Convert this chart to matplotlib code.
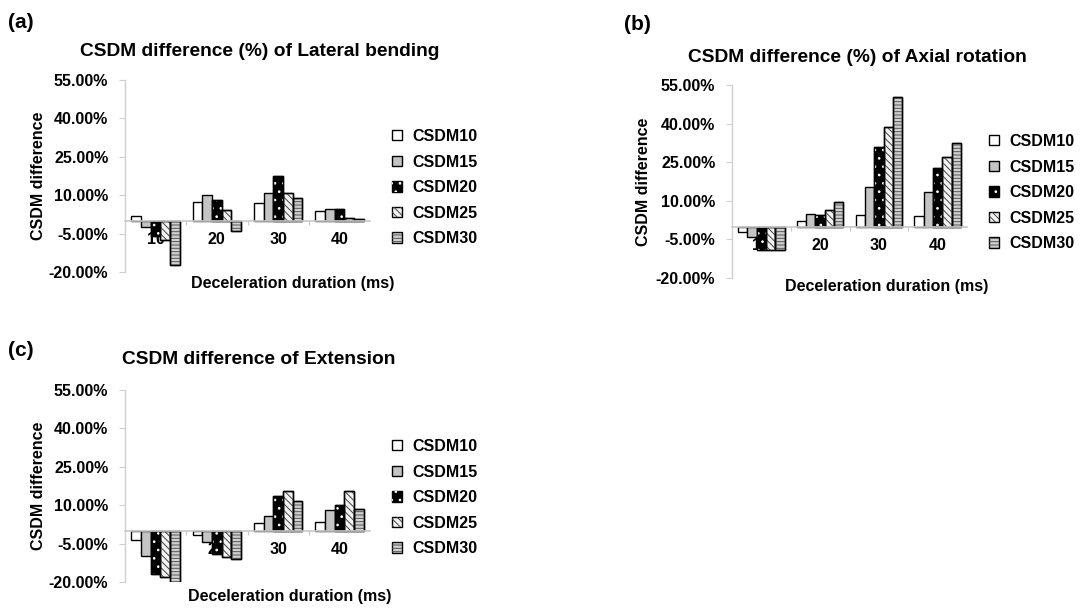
import matplotlib
matplotlib.use("Agg")
import matplotlib.pyplot as plt
import numpy as np
from matplotlib.legend_handler import HandlerTuple

plt.rcParams['font.family'] = ['Liberation Sans', 'DejaVu Sans']
plt.rcParams['font.weight'] = 'bold'
plt.rcParams['hatch.linewidth'] = 0.7

categories = ['10', '20', '30', '40']
series = ['CSDM10', 'CSDM15', 'CSDM20', 'CSDM25', 'CSDM30']
yticks = [-20, -5, 10, 25, 40, 55]

# Panel (a): Lateral bending (values in %)
lat_csdm10 = [2.0, 7.4, 6.9, 3.9]
lat_csdm15 = [-2.3, 10.0, 11.0, 4.8]
lat_csdm20 = [-5.9, 8.2, 17.5, 4.8]
lat_csdm25 = [-7.5, 4.4, 10.8, 1.0]
lat_csdm30 = [-17.3, -3.9, 9.1, 0.6]

# Panel (b): Axial rotation
axi_csdm10 = [-2.0, 2.3, 4.5, 4.1]
axi_csdm15 = [-3.9, 4.8, 15.5, 13.6]
axi_csdm20 = [-9.0, 4.3, 30.8, 22.9]
axi_csdm25 = [-9.0, 6.5, 38.8, 27.0]
axi_csdm30 = [-9.3, 9.4, 50.2, 32.3]

# Panel (c): Extension
ext_csdm10 = [-3.4, -1.6, 2.9, 3.5]
ext_csdm15 = [-9.9, -4.4, 5.9, 8.2]
ext_csdm20 = [-16.8, -9.1, 13.4, 10.0]
ext_csdm25 = [-18.2, -10.2, 15.5, 15.5]
ext_csdm30 = [-20.2, -11.1, 11.5, 8.7]

styles = [
    dict(face='white', hatch=None, hcolor=None),
    dict(face='#c4c4c4', hatch=None, hcolor=None),
    dict(face='black', hatch='..', hcolor='white'),
    dict(face='#f2f2f2', hatch='\\\\\\\\\\', hcolor='#444444'),
    dict(face='#cfcfcf', hatch='-----', hcolor='#555555'),
]

W, H = 1083, 608
fig = plt.figure(figsize=(W / 100, H / 100), dpi=100)


def px_rect(x0, x1, ytop, ybot):
    return [x0 / W, 1 - ybot / H, (x1 - x0) / W, (ybot - ytop) / H]


def panel(rect, data, title, title_xy, letter, letter_xy, ylabel_xy, xlabel_xy, leg_xy):
    ax = fig.add_axes(rect)
    x = np.arange(len(categories))
    n = len(series)
    bw = 0.158
    handles = []
    for i, (vals, st) in enumerate(zip(data, styles)):
        pos = x + (i - (n - 1) / 2) * bw
        b = ax.bar(pos, vals, bw, color=st['face'], edgecolor='black', linewidth=1.0, zorder=2)
        h = b.patches[0]
        if st['hatch']:
            o = ax.bar(pos, vals, bw, color='none', edgecolor=st['hcolor'], linewidth=0,
                       hatch=st['hatch'], zorder=2.1)
            ax.bar(pos, vals, bw, color='none', edgecolor='black', linewidth=1.0, zorder=2.2)
            handles.append((b.patches[0], o.patches[0]))
        else:
            handles.append((h,))
    ax.set_ylim(-20, 55)
    ax.set_xlim(-0.5, len(categories) - 0.5)
    ax.set_yticks(yticks)
    ax.set_yticklabels([f"{v:.2f}%" for v in yticks], fontsize=11.5, fontweight='bold')
    ax.spines['top'].set_visible(False)
    ax.spines['right'].set_visible(False)
    ax.spines['bottom'].set_position(('data', 0))
    ax.spines['bottom'].set_color('#c8c8c8')
    ax.spines['left'].set_color('#d0d0d0')
    ax.spines['bottom'].set_linewidth(1.2)
    ax.spines['left'].set_linewidth(1.0)
    ax.set_xticks(np.arange(len(categories) - 1) + 0.5)
    ax.set_xticklabels([])
    ax.set_xticks(x, minor=True)
    ax.set_xticklabels(categories, minor=True, fontsize=11.5, fontweight='bold')
    ax.tick_params(axis='x', which='major', direction='out', length=3, color='#c8c8c8')
    ax.tick_params(axis='x', which='minor', length=0, pad=8)
    ax.tick_params(axis='y', direction='out', length=4, color='#d0d0d0', pad=8)
    ax.xaxis.set_zorder(0.5)
    ax.set_ylabel('CSDM difference', fontsize=11.5, fontweight='bold')
    ax.yaxis.set_label_coords(*ylabel_xy)
    ax.set_xlabel('Deceleration duration (ms)', fontsize=11.5, fontweight='bold')
    ax.xaxis.set_label_coords(*xlabel_xy)
    fig.text(title_xy[0] / W, 1 - title_xy[1] / H, title, fontsize=13.8, fontweight='bold',
             ha='center', va='center')
    fig.text(letter_xy[0] / W, 1 - letter_xy[1] / H, letter, fontsize=15, fontweight='bold',
             ha='left', va='center')
    leg = ax.legend(handles, series, handler_map={tuple: HandlerTuple(ndivide=1, pad=0)},
                    loc='upper left', bbox_to_anchor=(leg_xy[0] / W, 1 - leg_xy[1] / H),
                    bbox_transform=fig.transFigure, frameon=False, fontsize=11.5,
                    handlelength=0.6, handleheight=0.6, handletextpad=0.7,
                    labelspacing=0.66, borderpad=0, borderaxespad=0)
    for t in leg.get_texts():
        t.set_fontweight('bold')
    return ax


panel(px_rect(125, 370, 80, 272),
      [lat_csdm10, lat_csdm15, lat_csdm20, lat_csdm25, lat_csdm30],
      'CSDM difference (%) of Lateral bending', (260, 51), '(a)', (8, 22),
      (-0.322, 0.5), (0.686, -0.02), (392, 129))

panel(px_rect(732, 967, 85, 278),
      [axi_csdm10, axi_csdm15, axi_csdm20, axi_csdm25, axi_csdm30],
      'CSDM difference (%) of Axial rotation', (857, 58), '(b)', (624, 24),
      (-0.343, 0.5), (0.66, -0.004), (989, 134))

panel(px_rect(125, 370, 390, 582),
      [ext_csdm10, ext_csdm15, ext_csdm20, ext_csdm25, ext_csdm30],
      'CSDM difference of Extension', (259, 360), '(c)', (8, 351),
      (-0.322, 0.5), (0.673, -0.035), (392, 439))

fig.savefig('out.png', dpi=100, facecolor='white')
